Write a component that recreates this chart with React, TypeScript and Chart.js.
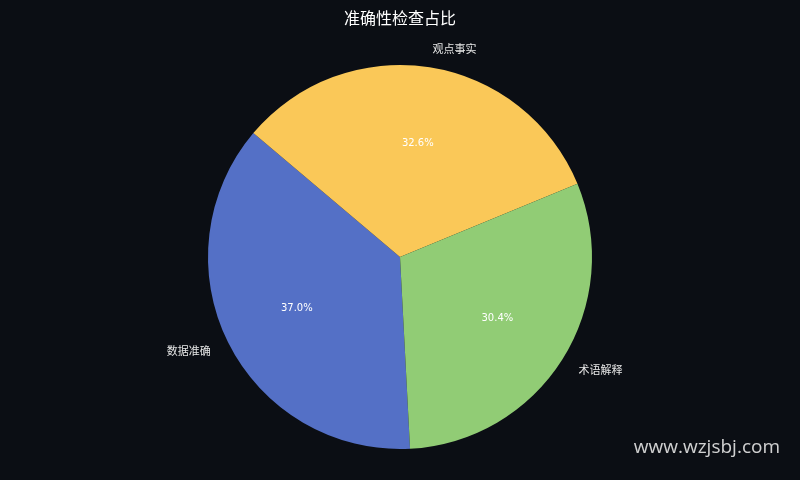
import React, { useEffect, useRef } from "react";
import { Chart, registerables } from "chart.js";

Chart.register(...registerables);

const TITLE = "准确性检查占比";
const categories = ["数据准确", "观点事实", "术语解释"];
const values = [37.0, 32.6, 30.4];
const colors = ["#5470c6", "#fac858", "#91cc75"];
const WATERMARK = "www.wzjsbj.com";
const BG = "#0b0e14";
const CJK = '"Noto Sans CJK SC", "Noto Sans", sans-serif';

const textPlugin = {
  id: "textPlugin",
  beforeDraw(chart: any) {
    const ctx = chart.ctx;
    ctx.save();
    ctx.fillStyle = BG;
    ctx.fillRect(0, 0, chart.width, chart.height);
    ctx.restore();
  },
  afterDraw(chart: any) {
    const ctx = chart.ctx;
    const meta = chart.getDatasetMeta(0);
    const total = values.reduce((a, b) => a + b, 0);
    ctx.save();
    ctx.fillStyle = "#ffffff";
    ctx.font = `16px ${CJK}`;
    ctx.textAlign = "center";
    ctx.textBaseline = "middle";
    ctx.fillText(TITLE, chart.width / 2, 18);

    meta.data.forEach((arc: any, i: number) => {
      const mid = (arc.startAngle + arc.endAngle) / 2;
      const r = arc.outerRadius;
      const lx = arc.x + Math.cos(mid) * r * 1.1;
      const ly = arc.y + Math.sin(mid) * r * 1.1;
      ctx.font = `11px ${CJK}`;
      ctx.fillStyle = "#e6e6e6";
      ctx.textBaseline = "middle";
      ctx.textAlign = lx >= arc.x ? "left" : "right";
      ctx.fillText(categories[i], lx, ly);

      const px = arc.x + Math.cos(mid) * r * 0.6;
      const py = arc.y + Math.sin(mid) * r * 0.6;
      ctx.textAlign = "center";
      ctx.fillStyle = "#ffffff";
      ctx.font = `10px "DejaVu Sans", sans-serif`;
      ctx.fillText(((values[i] / total) * 100).toFixed(1) + "%", px, py);
    });

    ctx.font = `19px "Open Sans", "DejaVu Sans", sans-serif`;
    ctx.fillStyle = "rgba(230,230,230,0.9)";
    ctx.textAlign = "right";
    ctx.textBaseline = "middle";
    ctx.fillText(WATERMARK, 780, 448);
    ctx.restore();
  },
};

export default function App() {
  const ref = useRef<HTMLCanvasElement>(null);
  useEffect(() => {
    document.body.style.margin = "0";
    document.body.style.background = BG;
    const chart = new Chart(ref.current!, {
      type: "pie",
      data: {
        labels: categories,
        datasets: [
          {
            data: values,
            backgroundColor: colors,
            borderWidth: 0,
          },
        ],
      },
      options: {
        animation: false,
        responsive: false,
        rotation: 177,
        layout: { padding: { top: 65, bottom: 31, left: 0, right: 0 } },
        plugins: {
          legend: { display: false },
          tooltip: { enabled: false },
          title: { display: false },
        },
      },
      plugins: [textPlugin],
    });
    return () => chart.destroy();
  }, []);
  return (
    <div style={{ position: "fixed", left: 0, top: 0, width: 800, height: 480, background: BG }}>
      <canvas ref={ref} width={800} height={480} style={{ width: 800, height: 480 }} />
    </div>
  );
}
